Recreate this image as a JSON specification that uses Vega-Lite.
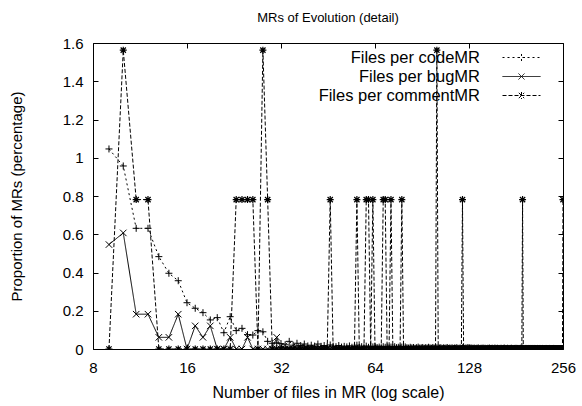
{
  "$schema": "https://vega.github.io/schema/vega-lite/v6.json",
  "autosize": {"type": "none"},
  "padding": {"left": 93, "top": 43, "right": 19, "bottom": 57},
  "width": 470,
  "height": 306,
  "background": "white",
  "title": {"text": "MRs of Evolution (detail)", "fontSize": 13, "fontWeight": "normal", "color": "black", "font": "Liberation Sans", "offset": 14, "dy": 3},
  "data": {"values": [
    {"x":9,"c":1.046,"b":0.546,"m":0},
    {"x":10,"c":0.957,"b":0.607,"m":1.5625},
    {"x":11,"c":0.631,"b":0.182,"m":0.78125},
    {"x":12,"c":0.631,"b":0.182,"m":0.78125},
    {"x":13,"c":0.483,"b":0.061,"m":0},
    {"x":14,"c":0.396,"b":0.061,"m":0},
    {"x":15,"c":0.357,"b":0.182,"m":0},
    {"x":16,"c":0.242,"b":0,"m":0},
    {"x":17,"c":0.213,"b":0.121,"m":0},
    {"x":18,"c":0.19,"b":0.061,"m":0},
    {"x":19,"c":0.152,"b":0.121,"m":0},
    {"x":20,"c":0.164,"b":0,"m":0},
    {"x":21,"c":0.085,"b":0,"m":0},
    {"x":22,"c":0.169,"b":0.061,"m":0},
    {"x":23,"c":0.096,"b":0,"m":0.78125},
    {"x":24,"c":0.108,"b":0,"m":0.78125},
    {"x":25,"c":0.075,"b":0.061,"m":0.78125},
    {"x":26,"c":0.073,"b":0,"m":0.78125},
    {"x":27,"c":0.096,"b":0,"m":0},
    {"x":28,"c":0.09,"b":0,"m":1.5625},
    {"x":29,"c":0.04,"b":0,"m":0.78125},
    {"x":30,"c":0.03,"b":0,"m":0},
    {"x":31,"c":0.032,"b":0.061,"m":0},
    {"x":32,"c":0.028,"b":0,"m":0},
    {"x":33,"c":0.022,"b":0,"m":0},
    {"x":34,"c":0.04,"b":0,"m":0},
    {"x":35,"c":0.02,"b":0,"m":0},
    {"x":36,"c":0.03,"b":0,"m":0},
    {"x":37,"c":0.018,"b":0,"m":0},
    {"x":38,"c":0.026,"b":0,"m":0},
    {"x":39,"c":0.016,"b":0,"m":0},
    {"x":40,"c":0.02,"b":0,"m":0},
    {"x":41,"c":0.015,"b":0,"m":0},
    {"x":42,"c":0.026,"b":0,"m":0},
    {"x":43,"c":0.014,"b":0,"m":0},
    {"x":44,"c":0.018,"b":0,"m":0},
    {"x":45,"c":0.012,"b":0,"m":0},
    {"x":46,"c":0.021,"b":0,"m":0.78125},
    {"x":47,"c":0.015,"b":0,"m":0},
    {"x":48,"c":0.012,"b":0,"m":0},
    {"x":49,"c":0.018,"b":0,"m":0},
    {"x":50,"c":0.01,"b":0,"m":0},
    {"x":51,"c":0.014,"b":0,"m":0},
    {"x":52,"c":0.011,"b":0,"m":0},
    {"x":53,"c":0.016,"b":0,"m":0},
    {"x":54,"c":0.009,"b":0,"m":0},
    {"x":55,"c":0.013,"b":0,"m":0},
    {"x":56,"c":0.02,"b":0,"m":0.78125},
    {"x":57,"c":0.008,"b":0,"m":0},
    {"x":58,"c":0.012,"b":0,"m":0},
    {"x":59,"c":0.01,"b":0,"m":0},
    {"x":60,"c":0.015,"b":0,"m":0.78125},
    {"x":61,"c":0.009,"b":0,"m":0.78125},
    {"x":62,"c":0.012,"b":0,"m":0},
    {"x":63,"c":0.011,"b":0,"m":0.78125},
    {"x":64,"c":0.014,"b":0,"m":0},
    {"x":65,"c":0.008,"b":0,"m":0},
    {"x":66,"c":0.01,"b":0,"m":0},
    {"x":67,"c":0.007,"b":0,"m":0},
    {"x":68,"c":0.012,"b":0,"m":0.78125},
    {"x":69,"c":0.009,"b":0,"m":0.78125},
    {"x":70,"c":0.011,"b":0,"m":0},
    {"x":71,"c":0.006,"b":0,"m":0},
    {"x":72,"c":0.01,"b":0,"m":0.78125},
    {"x":73,"c":0.008,"b":0,"m":0},
    {"x":74,"c":0.012,"b":0,"m":0},
    {"x":75,"c":0.007,"b":0,"m":0},
    {"x":76,"c":0.009,"b":0,"m":0},
    {"x":77,"c":0.006,"b":0,"m":0},
    {"x":78,"c":0.01,"b":0,"m":0.78125},
    {"x":79,"c":0.008,"b":0,"m":0},
    {"x":80,"c":0.011,"b":0,"m":0},
    {"x":81,"c":0.007,"b":0,"m":0},
    {"x":82,"c":0.005,"b":0,"m":0},
    {"x":83,"c":0.009,"b":0,"m":0},
    {"x":84,"c":0.006,"b":0,"m":0},
    {"x":85,"c":0.008,"b":0,"m":0},
    {"x":86,"c":0.004,"b":0,"m":0},
    {"x":87,"c":0.007,"b":0,"m":0},
    {"x":88,"c":0.01,"b":0,"m":0},
    {"x":89,"c":0.005,"b":0,"m":0},
    {"x":90,"c":0.006,"b":0,"m":0},
    {"x":91,"c":0.008,"b":0,"m":0},
    {"x":92,"c":0.004,"b":0,"m":0},
    {"x":93,"c":0.007,"b":0,"m":0},
    {"x":94,"c":0.005,"b":0,"m":0},
    {"x":95,"c":0.009,"b":0,"m":0},
    {"x":96,"c":0.006,"b":0,"m":0},
    {"x":97,"c":0.004,"b":0,"m":0},
    {"x":98,"c":0.008,"b":0,"m":0},
    {"x":99,"c":0.005,"b":0,"m":0},
    {"x":100,"c":0.007,"b":0,"m":0},
    {"x":101,"c":0.006,"b":0,"m":1.5625},
    {"x":102,"c":0.004,"b":0,"m":0},
    {"x":103,"c":0.005,"b":0,"m":0},
    {"x":104,"c":0.007,"b":0,"m":0},
    {"x":105,"c":0.003,"b":0,"m":0},
    {"x":106,"c":0.006,"b":0,"m":0},
    {"x":107,"c":0.004,"b":0,"m":0},
    {"x":108,"c":0.005,"b":0,"m":0},
    {"x":109,"c":0.008,"b":0,"m":0},
    {"x":110,"c":0.003,"b":0,"m":0},
    {"x":111,"c":0.005,"b":0,"m":0},
    {"x":112,"c":0.004,"b":0,"m":0},
    {"x":113,"c":0.006,"b":0,"m":0},
    {"x":114,"c":0.003,"b":0,"m":0},
    {"x":115,"c":0.005,"b":0,"m":0},
    {"x":116,"c":0.004,"b":0,"m":0},
    {"x":117,"c":0.007,"b":0,"m":0},
    {"x":118,"c":0.003,"b":0,"m":0},
    {"x":119,"c":0.004,"b":0,"m":0},
    {"x":120,"c":0.005,"b":0,"m":0},
    {"x":121,"c":0.003,"b":0,"m":0},
    {"x":122,"c":0.006,"b":0,"m":0.78125},
    {"x":123,"c":0.004,"b":0,"m":0},
    {"x":124,"c":0.003,"b":0,"m":0},
    {"x":125,"c":0.005,"b":0,"m":0},
    {"x":126,"c":0.004,"b":0,"m":0},
    {"x":127,"c":0.008,"b":0,"m":0},
    {"x":128,"c":0.003,"b":0,"m":0},
    {"x":129,"c":0.004,"b":0,"m":0},
    {"x":130,"c":0.005,"b":0,"m":0},
    {"x":131,"c":0.004,"b":0,"m":0},
    {"x":132,"c":0.003,"b":0,"m":0},
    {"x":133,"c":0.005,"b":0,"m":0},
    {"x":134,"c":0.002,"b":0,"m":0},
    {"x":135,"c":0.004,"b":0,"m":0},
    {"x":136,"c":0.003,"b":0,"m":0},
    {"x":137,"c":0.006,"b":0,"m":0},
    {"x":138,"c":0.002,"b":0,"m":0},
    {"x":139,"c":0.003,"b":0,"m":0},
    {"x":140,"c":0.004,"b":0,"m":0},
    {"x":141,"c":0.003,"b":0,"m":0},
    {"x":142,"c":0.005,"b":0,"m":0},
    {"x":143,"c":0.002,"b":0,"m":0},
    {"x":144,"c":0.004,"b":0,"m":0},
    {"x":145,"c":0.003,"b":0,"m":0},
    {"x":146,"c":0.002,"b":0,"m":0},
    {"x":147,"c":0.004,"b":0,"m":0},
    {"x":148,"c":0.003,"b":0,"m":0},
    {"x":149,"c":0.005,"b":0,"m":0},
    {"x":150,"c":0.002,"b":0,"m":0},
    {"x":151,"c":0.003,"b":0,"m":0},
    {"x":152,"c":0.004,"b":0,"m":0},
    {"x":153,"c":0.002,"b":0,"m":0},
    {"x":154,"c":0.003,"b":0,"m":0},
    {"x":155,"c":0.005,"b":0,"m":0},
    {"x":156,"c":0.002,"b":0,"m":0},
    {"x":157,"c":0.003,"b":0,"m":0},
    {"x":158,"c":0.004,"b":0,"m":0},
    {"x":159,"c":0.002,"b":0,"m":0},
    {"x":160,"c":0.003,"b":0,"m":0},
    {"x":161,"c":0.002,"b":0,"m":0},
    {"x":162,"c":0.004,"b":0,"m":0},
    {"x":163,"c":0.003,"b":0,"m":0},
    {"x":164,"c":0.002,"b":0,"m":0},
    {"x":165,"c":0.003,"b":0,"m":0},
    {"x":166,"c":0.005,"b":0,"m":0},
    {"x":167,"c":0.002,"b":0,"m":0},
    {"x":168,"c":0.003,"b":0,"m":0},
    {"x":169,"c":0.002,"b":0,"m":0},
    {"x":170,"c":0.004,"b":0,"m":0},
    {"x":171,"c":0.002,"b":0,"m":0},
    {"x":172,"c":0.003,"b":0,"m":0},
    {"x":173,"c":0.002,"b":0,"m":0},
    {"x":174,"c":0.003,"b":0,"m":0},
    {"x":175,"c":0.004,"b":0,"m":0},
    {"x":176,"c":0.002,"b":0,"m":0},
    {"x":177,"c":0.003,"b":0,"m":0},
    {"x":178,"c":0.002,"b":0,"m":0},
    {"x":179,"c":0.003,"b":0,"m":0},
    {"x":180,"c":0.002,"b":0,"m":0},
    {"x":181,"c":0.004,"b":0,"m":0},
    {"x":182,"c":0.002,"b":0,"m":0},
    {"x":183,"c":0.003,"b":0,"m":0},
    {"x":184,"c":0.002,"b":0,"m":0},
    {"x":185,"c":0.003,"b":0,"m":0},
    {"x":186,"c":0.002,"b":0,"m":0},
    {"x":187,"c":0.004,"b":0,"m":0},
    {"x":188,"c":0.002,"b":0,"m":0},
    {"x":189,"c":0.003,"b":0,"m":0},
    {"x":190,"c":0.002,"b":0,"m":0.78125},
    {"x":191,"c":0.003,"b":0,"m":0},
    {"x":192,"c":0.002,"b":0,"m":0},
    {"x":193,"c":0.001,"b":0,"m":0},
    {"x":194,"c":0.003,"b":0,"m":0},
    {"x":195,"c":0.002,"b":0,"m":0},
    {"x":196,"c":0.003,"b":0,"m":0},
    {"x":197,"c":0.001,"b":0,"m":0},
    {"x":198,"c":0.002,"b":0,"m":0},
    {"x":199,"c":0.003,"b":0,"m":0},
    {"x":200,"c":0.002,"b":0,"m":0},
    {"x":201,"c":0.001,"b":0,"m":0},
    {"x":202,"c":0.003,"b":0,"m":0},
    {"x":203,"c":0.002,"b":0,"m":0},
    {"x":204,"c":0.002,"b":0,"m":0},
    {"x":205,"c":0.003,"b":0,"m":0},
    {"x":206,"c":0.001,"b":0,"m":0},
    {"x":207,"c":0.002,"b":0,"m":0},
    {"x":208,"c":0.003,"b":0,"m":0},
    {"x":209,"c":0.002,"b":0,"m":0},
    {"x":210,"c":0.001,"b":0,"m":0},
    {"x":211,"c":0.002,"b":0,"m":0},
    {"x":212,"c":0.003,"b":0,"m":0},
    {"x":213,"c":0.001,"b":0,"m":0},
    {"x":214,"c":0.002,"b":0,"m":0},
    {"x":215,"c":0.002,"b":0,"m":0},
    {"x":216,"c":0.003,"b":0,"m":0},
    {"x":217,"c":0.001,"b":0,"m":0},
    {"x":218,"c":0.002,"b":0,"m":0},
    {"x":219,"c":0.001,"b":0,"m":0},
    {"x":220,"c":0.003,"b":0,"m":0},
    {"x":221,"c":0.002,"b":0,"m":0},
    {"x":222,"c":0.001,"b":0,"m":0},
    {"x":223,"c":0.002,"b":0,"m":0},
    {"x":224,"c":0.002,"b":0,"m":0},
    {"x":225,"c":0.001,"b":0,"m":0},
    {"x":226,"c":0.003,"b":0,"m":0},
    {"x":227,"c":0.002,"b":0,"m":0},
    {"x":228,"c":0.001,"b":0,"m":0},
    {"x":229,"c":0.002,"b":0,"m":0},
    {"x":230,"c":0.001,"b":0,"m":0},
    {"x":231,"c":0.002,"b":0,"m":0},
    {"x":232,"c":0.003,"b":0,"m":0},
    {"x":233,"c":0.001,"b":0,"m":0},
    {"x":234,"c":0.002,"b":0,"m":0},
    {"x":235,"c":0.001,"b":0,"m":0},
    {"x":236,"c":0.002,"b":0,"m":0},
    {"x":237,"c":0.002,"b":0,"m":0},
    {"x":238,"c":0.001,"b":0,"m":0},
    {"x":239,"c":0.003,"b":0,"m":0},
    {"x":240,"c":0.001,"b":0,"m":0},
    {"x":241,"c":0.002,"b":0,"m":0},
    {"x":242,"c":0.001,"b":0,"m":0},
    {"x":243,"c":0.002,"b":0,"m":0},
    {"x":244,"c":0.001,"b":0,"m":0},
    {"x":245,"c":0.002,"b":0,"m":0},
    {"x":246,"c":0.001,"b":0,"m":0},
    {"x":247,"c":0.002,"b":0,"m":0},
    {"x":248,"c":0.001,"b":0,"m":0},
    {"x":249,"c":0.002,"b":0,"m":0},
    {"x":250,"c":0.001,"b":0,"m":0},
    {"x":251,"c":0.002,"b":0,"m":0},
    {"x":252,"c":0.001,"b":0,"m":0},
    {"x":253,"c":0.001,"b":0,"m":0},
    {"x":254,"c":0.002,"b":0,"m":0},
    {"x":255,"c":0.001,"b":0,"m":0},
    {"x":256,"c":0.002,"b":0,"m":0.78125}
  ]},
  "transform": [
    {"fold": ["c", "b", "m"], "as": ["series", "value"]}
  ],
  "layer": [
    {
      "mark": {"type": "line", "color": "black", "strokeWidth": 1, "clip": true},
      "encoding": {
        "x": {"field": "x", "type": "quantitative",
              "scale": {"type": "log", "base": 2, "domain": [8, 256], "nice": false},
              "axis": {"orient": "bottom", "values": [8, 16, 32, 64, 128, 256], "format": "d",
                       "title": "Number of files in MR (log scale)", "titleFontSize": 16, "titlePadding": 9,
                       "labelFontSize": 15, "tickSize": -5, "labelPadding": 16, "labelFlush": false}},
        "y": {"field": "value", "type": "quantitative",
              "scale": {"domain": [0, 1.6], "nice": false, "zero": false},
              "axis": {"orient": "left", "values": [0, 0.2, 0.4, 0.6, 0.8, 1, 1.2, 1.4, 1.6], "format": "~g",
                       "title": "Proportion of MRs (percentage)", "titleFontSize": 15, "titlePadding": 38,
                       "labelFontSize": 15, "tickSize": -5, "labelPadding": 15}},
        "strokeDash": {"field": "series", "type": "nominal",
                       "scale": {"domain": ["c", "b", "m"], "range": [[2, 3], [1, 0], [4, 2]]},
                       "legend": {"orient": "none", "legendX": 419, "legendY": 5, "title": null, "padding": 0,
                                  "labelExpr": "datum.label == 'c' ? 'Files per codeMR' : datum.label == 'b' ? 'Files per bugMR' : 'Files per commentMR'",
                                  "labelFontSize": 16.5, "labelColor": "black", "labelAlign": "right", "labelOffset": -51, "labelLimit": 400,
                                  "symbolSize": 324, "symbolStrokeWidth": 1, "symbolStrokeColor": "black",
                                  "rowPadding": 1,
                                  "encode": {"symbols": {"update": {"shape": {"signal": "datum.value == 'c' ? 'M-2.11,0L2.11,0M0,-0.39L0,0.39M-0.39,0L0.39,0' : datum.value == 'b' ? 'M-2.11,0L2.11,0M-0.33,-0.33L0.33,0.33M-0.33,0.33L0.33,-0.33' : 'M-2.11,0L2.11,0M0,-0.39L0,0.39M-0.3,-0.3L0.3,0.3M-0.3,0.3L0.3,-0.3'"}}}}}}
      }
    },
    {
      "transform": [{"filter": "datum.series == 'c'"}],
      "mark": {"type": "point", "shape": "M-1,0L1,0M0,-1L0,1", "filled": false, "stroke": "black", "strokeWidth": 1, "size": 49, "opacity": 1, "clip": true},
      "encoding": {
        "x": {"field": "x", "type": "quantitative",
              "scale": {"type": "log", "base": 2, "domain": [8, 256], "nice": false},
              "axis": {"orient": "top", "values": [8, 16, 32, 64, 128, 256], "labels": false, "title": null, "tickSize": -5}},
        "y": {"field": "value", "type": "quantitative",
              "scale": {"domain": [0, 1.6], "nice": false, "zero": false},
              "axis": {"orient": "right", "values": [0, 0.2, 0.4, 0.6, 0.8, 1, 1.2, 1.4, 1.6], "labels": false, "title": null, "tickSize": -5}}
      }
    },
    {
      "transform": [{"filter": "datum.series == 'b'"}],
      "mark": {"type": "point", "shape": "M-1,-1L1,1M-1,1L1,-1", "filled": false, "stroke": "black", "strokeWidth": 1, "size": 42, "opacity": 1, "clip": true},
      "encoding": {
        "x": {"field": "x", "type": "quantitative", "scale": {"type": "log", "base": 2, "domain": [8, 256], "nice": false}, "axis": null},
        "y": {"field": "value", "type": "quantitative", "scale": {"domain": [0, 1.6], "nice": false, "zero": false}, "axis": null}
      }
    },
    {
      "transform": [{"filter": "datum.series == 'm'"}],
      "mark": {"type": "point", "shape": "M-1,0L1,0M0,-1L0,1M-0.75,-0.75L0.75,0.75M-0.75,0.75L0.75,-0.75", "filled": false, "stroke": "black", "strokeWidth": 1.2, "size": 49, "opacity": 1, "clip": true},
      "encoding": {
        "x": {"field": "x", "type": "quantitative", "scale": {"type": "log", "base": 2, "domain": [8, 256], "nice": false}, "axis": null},
        "y": {"field": "value", "type": "quantitative", "scale": {"domain": [0, 1.6], "nice": false, "zero": false}, "axis": null}
      }
    }
  ],
  "resolve": {"axis": {"x": "independent", "y": "independent"}},
  "config": {
    "font": "Liberation Sans",
    "view": {"stroke": "black", "strokeWidth": 1},
    "axis": {"grid": false, "domain": false, "tickColor": "black", "tickWidth": 1, "labelColor": "black", "titleColor": "black", "titleFontWeight": "normal", "labelFont": "Liberation Sans", "titleFont": "Liberation Sans"},
    "legend": {"labelFont": "Liberation Sans"}
  }
}
